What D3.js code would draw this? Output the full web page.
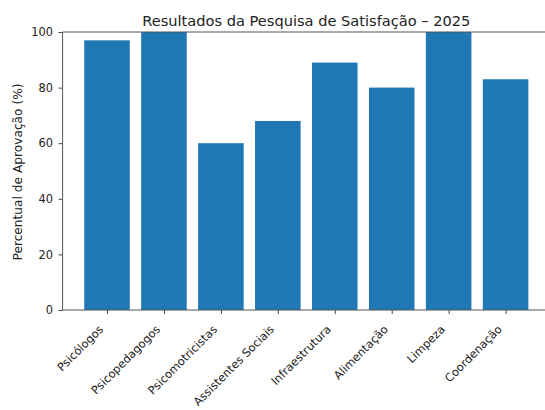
<!DOCTYPE html>
<html>
<head>
<meta charset="utf-8">
<script src="https://cdn.jsdelivr.net/npm/d3@7.9.0/dist/d3.min.js"></script>
<style>
  body { margin: 0; background: #fff; }
  svg text { font-family: "DejaVu Sans", sans-serif; fill: #222; }
</style>
</head>
<body>
<svg width="545" height="410"></svg>
<script>
const categorias = ['Psicólogos', 'Psicopedagogos', 'Psicomotricistas', 'Assistentes Sociais',
  'Infraestrutura', 'Alimentação', 'Limpeza', 'Coordenação'];
const aprovacao = [97, 100, 60, 68, 89, 80, 100, 83];
const yTicks = [0, 20, 40, 60, 80, 100];

const titulo = 'Resultados da Pesquisa de Satisfação – 2025';
const rotuloY = 'Percentual de Aprovação (%)';

const svg = d3.select('svg');
const plotLeft = 62.6, plotRight = 550, plotTop = 32, plotBottom = 310;
const tickFont = 11.4;

// same margins as matplotlib: bars of width 0.8, 5% padding
let x = d3.scaleLinear().domain([-0.78, categorias.length - 1 + 0.78]).range([plotLeft, plotRight]);
let y = d3.scaleLinear().domain([0, 100]).range([plotBottom, plotTop]);
const barW = x(0.8) - x(0);

svg.append('g')
  .selectAll('rect')
  .data(aprovacao)
  .join('rect')
  .attr('x', (d, i) => x(i) - barW / 2)
  .attr('y', d => y(d))
  .attr('width', barW)
  .attr('height', d => y(0) - y(d))
  .attr('fill', '#1f77b4');

// y axis
let yAxis = svg.append('g')
  .attr('transform', `translate(${plotLeft},0)`)
  .call(d3.axisLeft(y).tickValues(yTicks).tickSize(4).tickPadding(5.5).tickFormat(d3.format('d')));
yAxis.select('.domain').remove();
yAxis.selectAll('line').attr('stroke', '#444');
yAxis.selectAll('text').attr('font-size', tickFont).attr('font-family', 'DejaVu Sans').attr('fill', '#222');

// x axis, labels turned 45 degrees and right aligned on the tick
let xAxis = svg.append('g')
  .attr('transform', `translate(0,${plotBottom})`)
  .call(d3.axisBottom(x).tickValues(d3.range(categorias.length)).tickSize(4)
    .tickFormat(i => categorias[i]));
xAxis.select('.domain').remove();
xAxis.selectAll('line').attr('stroke', '#444');
xAxis.selectAll('text')
  .attr('font-size', tickFont)
  .attr('font-family', 'DejaVu Sans')
  .attr('fill', '#222')
  .attr('text-anchor', 'end')
  .attr('dy', null)
  .attr('y', null)
  .attr('transform', 'translate(-3.5,20) rotate(-45)');

// spines (left, top, bottom; right falls outside the picture)
svg.append('line').attr('x1', plotLeft).attr('x2', plotLeft).attr('y1', plotTop).attr('y2', plotBottom)
  .attr('stroke', '#555').attr('stroke-width', 1);
svg.append('line').attr('x1', plotLeft).attr('x2', plotRight).attr('y1', plotTop).attr('y2', plotTop)
  .attr('stroke', '#555').attr('stroke-width', 1);
svg.append('line').attr('x1', plotLeft).attr('x2', plotRight).attr('y1', plotBottom).attr('y2', plotBottom)
  .attr('stroke', '#555').attr('stroke-width', 1);

svg.append('text')
  .attr('x', (plotLeft + plotRight) / 2)
  .attr('y', 26)
  .attr('text-anchor', 'middle')
  .attr('font-size', 14.6)
  .text(titulo);

svg.append('text')
  .attr('transform', `translate(21.5,${(plotTop + plotBottom) / 2 + 1}) rotate(-90)`)
  .attr('text-anchor', 'middle')
  .attr('font-size', 12.2)
  .text(rotuloY);
</script>
</body>
</html>
